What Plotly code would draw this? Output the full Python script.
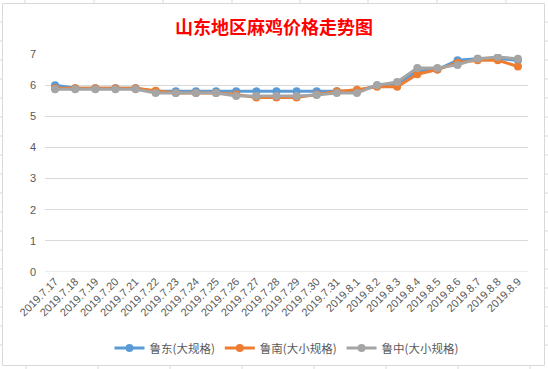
import plotly.graph_objects as go

dates = ["2019.7.17", "2019.7.18", "2019.7.19", "2019.7.20", "2019.7.21", "2019.7.22",
         "2019.7.23", "2019.7.24", "2019.7.25", "2019.7.26", "2019.7.27", "2019.7.28",
         "2019.7.29", "2019.7.30", "2019.7.31", "2019.8.1", "2019.8.2", "2019.8.3",
         "2019.8.4", "2019.8.5", "2019.8.6", "2019.8.7", "2019.8.8", "2019.8.9"]

ludong = [6.0, 5.9, 5.9, 5.9, 5.9, 5.8, 5.8, 5.8, 5.8, 5.8, 5.8, 5.8,
          5.8, 5.8, 5.8, 5.8, 6.0, 6.05, 6.45, 6.5, 6.8, 6.85, 6.85, 6.8]
lunan = [5.9, 5.9, 5.9, 5.9, 5.9, 5.82, 5.75, 5.75, 5.75, 5.7, 5.6, 5.6,
         5.6, 5.7, 5.8, 5.85, 5.95, 5.95, 6.35, 6.5, 6.72, 6.8, 6.8, 6.6]
luzhong = [5.87, 5.87, 5.87, 5.87, 5.87, 5.75, 5.75, 5.75, 5.75, 5.65, 5.65, 5.65,
           5.65, 5.68, 5.75, 5.75, 6.0, 6.1, 6.55, 6.55, 6.65, 6.85, 6.9, 6.85]

series = [("鲁东(大规格)", ludong, "#5B9BD5"),
          ("鲁南(大小规格)", lunan, "#ED7D31"),
          ("鲁中(大小规格)", luzhong, "#A5A5A5")]

fig = go.Figure()
for name, vals, color in series:
    fig.add_trace(go.Scatter(x=dates, y=vals, name=name, mode="lines+markers",
                             line=dict(color=color, width=3),
                             marker=dict(color=color, size=8)))

# plot area geometry (px) for paper-coordinate shapes
L, R, T, B = 45, 528, 54, 272
W, H = 548, 369
def px(x):
    return (x - L) / (R - L)
def py(y):
    return (B - y) / (B - T)

shapes = []
line_c = "#D9D9D9"
# spreadsheet cell lines outside the chart
for x in [25, 94, 163, 232, 300, 368, 437, 506]:
    shapes.append(dict(type="line", xref="paper", yref="paper", x0=px(x), x1=px(x),
                       y0=py(0), y1=py(3), line=dict(color=line_c, width=1), layer="below"))
for x in [26, 98, 170, 242, 314, 386, 458, 530]:
    shapes.append(dict(type="line", xref="paper", yref="paper", x0=px(x), x1=px(x),
                       y0=py(365), y1=py(369), line=dict(color=line_c, width=1), layer="below"))
for y in [22, 41, 60, 79, 98, 117, 136, 155, 174, 193, 212, 231, 250, 269, 288, 307, 326, 345]:
    shapes.append(dict(type="line", xref="paper", yref="paper", x0=px(0), x1=px(2),
                       y0=py(y), y1=py(y), line=dict(color=line_c, width=1), layer="below"))
    shapes.append(dict(type="line", xref="paper", yref="paper", x0=px(545), x1=px(548),
                       y0=py(y), y1=py(y), line=dict(color=line_c, width=1), layer="below"))
# chart border
shapes.append(dict(type="rect", xref="paper", yref="paper", x0=px(2.5), x1=px(544.5),
                   y0=py(3.5), y1=py(365.5), line=dict(color="#D9D9D9", width=1), layer="below"))

fig.update_layout(
    width=W, height=H,
    margin=dict(l=L, r=W - R, t=T, b=H - B, autoexpand=False),
    paper_bgcolor="white", plot_bgcolor="white",
    title=dict(text="<b>山东地区麻鸡价格走势图</b>", x=0.5, xanchor="center",
               y=1 - 28 / H, yanchor="middle",
               font=dict(family="Noto Sans CJK SC", size=18, color="#FF0000")),
    font=dict(family="Noto Sans CJK SC, Liberation Sans", color="#595959"),
    xaxis=dict(type="category", range=[-0.5, 23.5], tickangle=-45, automargin=False,
               tickfont=dict(size=11, color="#595959", family="Liberation Sans"),
               showgrid=False, showline=False, ticks="", zeroline=False),
    yaxis=dict(range=[0, 7], dtick=1, automargin=False,
               tickfont=dict(size=11, color="#595959", family="Liberation Sans"),
               showgrid=True, gridcolor="#D9D9D9", gridwidth=1, zeroline=False,
               showline=False, ticks="", ticklabelstandoff=8),
    legend=dict(orientation="h", x=0.5, xanchor="center", y=py(348), yanchor="middle",
                font=dict(size=11.5, color="#595959"), itemwidth=30,
                tracegroupgap=0),
    shapes=shapes,
    showlegend=True,
)
# bottom gridline at 0
fig.add_hline(y=0, line=dict(color="#D9D9D9", width=1), layer="below")

fig.write_html("out.html", config={"displayModeBar": False},
               post_script="document.body.style.margin='0';document.body.style.overflow='hidden';")
